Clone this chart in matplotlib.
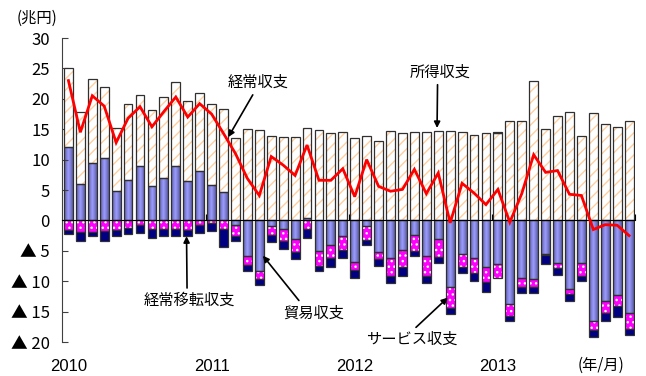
import numpy as np
import matplotlib.pyplot as plt
from matplotlib.colors import LinearSegmentedColormap
from matplotlib.transforms import blended_transform_factory

plt.rcParams["font.family"] = ["Liberation Sans", "Noto Sans CJK JP", "DejaVu Sans"]
plt.rcParams["hatch.linewidth"] = 1.0

JP = ["Noto Sans CJK JP", "DejaVu Sans"]

# 2010/1 - 2013/12 monthly, 兆円 (annualised)
trade = [12.1, 6.0, 9.4, 10.2, 4.8, 6.7, 8.9, 5.6, 6.9, 8.9, 6.5, 8.2,
         5.8, 4.6, -0.7, -5.9, -8.4, -1.0, -1.4, -3.0, 0.4, -5.1, -4.0, -2.6,
         -6.9, -1.0, -5.2, -6.2, -4.8, -2.4, -5.9, -3.1, -10.9, -5.5, -6.2, -7.7,
         -7.2, -13.8, -9.5, -9.6, -5.6, -7.0, -11.2, -7.0, -16.5, -13.3, -12.2, -15.3]
services = [-1.5, -1.9, -1.9, -1.8, -1.5, -1.3, -0.7, -1.4, -1.4, -1.4, -1.5, -0.8,
            -0.4, -1.4, -1.8, -1.5, -1.2, -1.4, -2.0, -2.2, -1.4, -2.4, -2.2, -2.2,
            -1.2, -2.3, -1.1, -3.0, -2.9, -2.7, -3.3, -3.0, -3.5, -2.1, -2.5, -2.5,
            -2.2, -1.9, -1.4, -1.3, -0.05, -0.9, -0.9, -2.1, -1.5, -1.9, -1.9, -2.5]
income = [12.9, 11.8, 13.9, 11.8, 10.4, 12.5, 11.7, 12.5, 13.4, 13.8, 13.1, 12.7,
          13.4, 13.8, 13.5, 15.0, 14.8, 13.9, 13.8, 13.8, 14.8, 14.8, 14.4, 14.6,
          13.5, 13.9, 13.0, 14.7, 14.4, 14.6, 14.6, 14.7, 14.7, 14.6, 14.1, 14.3,
          14.3, 16.3, 16.3, 22.9, 15.0, 17.2, 17.8, 13.9, 17.6, 15.9, 15.4, 16.3]
transfers = [-0.8, -1.5, -0.7, -1.6, -1.0, -0.9, -1.3, -1.5, -1.1, -1.1, -1.1, -1.2,
             -1.4, -3.0, -0.9, -1.0, -1.1, -1.2, -1.3, -1.1, -1.5, -0.9, -1.5, -1.4,
             -1.4, -0.7, -1.2, -1.1, -1.5, -0.8, -1.1, -0.9, -1.0, -1.0, -1.2, -1.6,
             0.2, -0.9, -1.1, -1.1, -1.5, -1.1, -1.2, -0.9, -1.2, -1.4, -1.8, -1.0]
current = [23.0, 14.5, 20.5, 18.8, 12.8, 16.8, 18.7, 15.4, 17.9, 20.3, 17.0, 19.2,
           17.5, 14.3, 11.0, 6.9, 4.1, 10.5, 9.1, 7.4, 12.4, 6.6, 6.6, 8.5,
           3.9, 10.0, 5.6, 4.8, 5.1, 8.4, 4.4, 7.8, -0.4, 6.1, 4.5, 2.6,
           5.1, -0.3, 4.4, 10.8, 7.9, 8.2, 4.3, 4.1, -1.5, -0.7, -0.8, -2.5]

year_labels = ["2010", "2011", "2012", "2013"]
y_ticks = [30, 25, 20, 15, 10, 5, 0, -5, -10, -15, -20]
y_tick_labels = ["30", "25", "20", "15", "10", "5", "0",
                 "▲ 5", "▲ 10", "▲ 15", "▲ 20"]

EDGE = "#303030"
BAR_W = 0.74

blue_cmap = LinearSegmentedColormap.from_list("trade", ["#9c9cff", "#5c5ca6"])


def stacked(ax, x, vals, pos_base, neg_base, **kw):
    vals = np.asarray(vals, dtype=float)
    bottom = np.where(vals >= 0, pos_base, neg_base)
    bars = ax.bar(x, vals, BAR_W, bottom=bottom, **kw)
    pos_base += np.where(vals > 0, vals, 0)
    neg_base += np.where(vals < 0, vals, 0)
    return bars, bottom


def main():
    x = np.arange(len(current))
    pos_base = np.zeros(len(x))
    neg_base = np.zeros(len(x))

    fig = plt.figure(figsize=(6.46, 3.76), dpi=100)
    ax = fig.add_axes([0.0967, 0.0904, 0.8864, 0.8085])

    # trade: gradient bars
    bars, _ = stacked(ax, x, trade, pos_base, neg_base,
                      facecolor="none", edgecolor=EDGE, linewidth=0.9, zorder=2)
    grad = np.abs(np.linspace(-1, 1, 64))[None, :]
    for b in bars:
        x0, y0 = b.get_xy()
        im = ax.imshow(grad, extent=(x0, x0 + b.get_width(), y0, y0 + b.get_height()),
                       aspect="auto", cmap=blue_cmap, vmin=0, vmax=1,
                       interpolation="bilinear", zorder=1.5)
        im.set_clip_path(b)

    # services: magenta with white dots
    sv = np.asarray(services)
    bottom = np.where(sv >= 0, pos_base, neg_base)
    ax.bar(x, sv, BAR_W, bottom=bottom, facecolor="#ff00ff", hatch="...",
           edgecolor="white", linewidth=0, zorder=1.6)
    stacked(ax, x, services, pos_base, neg_base, fill=False,
            edgecolor=EDGE, linewidth=0.9, zorder=2)

    # income: white with orange stripes
    inc = np.asarray(income)
    bottom = np.where(inc >= 0, pos_base, neg_base)
    ax.bar(x, inc, BAR_W, bottom=bottom, facecolor="white", hatch="///",
           edgecolor="#ffcfa0", linewidth=0, zorder=1.6)
    stacked(ax, x, income, pos_base, neg_base, fill=False,
            edgecolor=EDGE, linewidth=0.9, zorder=2)

    # transfers: navy
    stacked(ax, x, transfers, pos_base, neg_base, facecolor="#000080",
            edgecolor=EDGE, linewidth=0.9, zorder=2)

    ax.plot(x, current, color="#ff0000", linewidth=2.0, zorder=4,
            solid_joinstyle="miter")

    ax.set_xlim(-0.5, len(x) - 0.5)
    ax.set_ylim(-20, 30)

    for side in ["top", "right"]:
        ax.spines[side].set_visible(False)
    ax.spines["bottom"].set_position(("data", 0))
    ax.spines["bottom"].set_zorder(3)
    ax.spines["left"].set_color("#404040")

    ax.set_yticks(y_ticks)
    ax.set_yticklabels(y_tick_labels, family=JP)
    ax.tick_params(axis="y", direction="in", length=4, pad=9, labelsize=12,
                   color="#404040")
    ax.set_xticks(np.arange(11.5, len(x), 12))
    ax.tick_params(axis="x", direction="in", length=4, labelbottom=False)

    trans = blended_transform_factory(ax.transData, ax.transAxes)
    for i, lab in enumerate(year_labels):
        ax.text(i * 12, -0.08, lab, transform=trans, ha="center", va="center",
                fontsize=12)
    fig.text(0.93, 0.0292, "(年/月)", ha="center", va="center", fontsize=11,
             family=JP)
    fig.text(0.057, 0.952, "(兆円)", ha="center", va="center", fontsize=11,
             family=JP)

    arrow = dict(arrowstyle="-|>", color="black", lw=1.2, mutation_scale=9,
                 shrinkA=1, shrinkB=0)
    notes = [
        ("経常収支", (13.4, 13.7), (15.9, 22.7), (0.45, 0)),
        ("所得収支", (30.9, 15.2), (31.2, 24.4), (0.45, 0)),
        ("経常移転収支", (9.9, -2.6), (10.1, -13.2), (0.48, 1)),
        ("貿易収支", (16.3, -5.8), (20.6, -15.2), (0.3, 1)),
        ("サービス収支", (31.8, -12.7), (28.8, -19.6), (0.5, 1)),
    ]
    for text, tip, pos, rel in notes:
        ax.annotate(text, xy=tip, xytext=pos, ha="center", va="center",
                    fontsize=11, family=JP,
                    arrowprops=dict(arrow, relpos=rel))

    fig.savefig("out.png", dpi=100)
    plt.close(fig)


if __name__ == "__main__":
    main()
